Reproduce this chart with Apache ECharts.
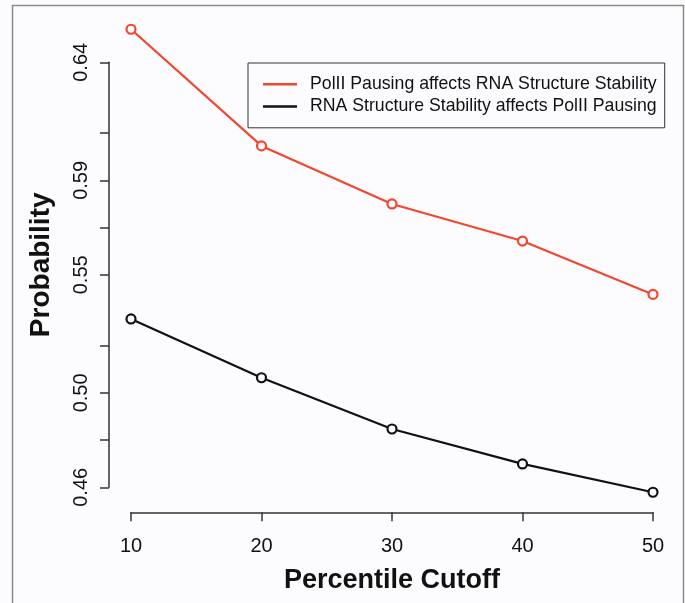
<!DOCTYPE html>
<html>
<head>
<meta charset="utf-8">
<script src="https://cdn.jsdelivr.net/npm/echarts@6/dist/echarts.min.js"></script>
<style>
  html, body { margin: 0; padding: 0; background: #fcfcfe; }
  #main { width: 685px; height: 603px; }
</style>
</head>
<body>
<div id="main"></div>
<script>
// data
var cutoffs = [10, 20, 30, 40, 50];
var pausingAffectsStructure = [0.654, 0.6046, 0.580, 0.5643, 0.5417];
var structureAffectsPausing = [0.5313, 0.5064, 0.4847, 0.4699, 0.4579];
var yLabelValues = [0.46, 0.50, 0.55, 0.59, 0.64];
var yTickValues = [0.46, 0.48, 0.50, 0.52, 0.55, 0.57, 0.59, 0.61, 0.64];

var seriesNames = ['PolII Pausing affects RNA Structure Stability', 'RNA Structure Stability affects PolII Pausing'];
var red = '#f2462e';
var black = '#111111';

function pairs(ys) {
    return cutoffs.map(function (x, i) { return [x, ys[i]]; });
}

var myChart = echarts.init(document.getElementById('main'));
myChart.setOption({
    backgroundColor: '#fcfcfe',
    animation: false,
    textStyle: { fontFamily: 'Liberation Sans, Arial, sans-serif' },
    graphic: [{
        // outer frame
        type: 'rect',
        shape: { x: 12.5, y: 5.5, width: 671, height: 620 },
        style: { fill: null, stroke: '#8a8a8a', lineWidth: 1.5 },
        silent: true
    }],
    grid: { left: 131, right: 32, top: 62.3, bottom: 115.7 },
    legend: {
        left: 248,
        top: 63,
        orient: 'vertical',
        padding: [10, 8, 10, 15],
        itemGap: 0,
        itemWidth: 34,
        itemHeight: 2.5,
        icon: 'rect',
        borderColor: '#333',
        borderWidth: 1,
        borderRadius: 0,
        textStyle: { fontSize: 17.7, color: '#111', lineHeight: 22.4, padding: [0, 0, 0, 8] },
        data: [
            { name: seriesNames[0], itemStyle: { color: red, borderWidth: 0 } },
            { name: seriesNames[1], itemStyle: { color: black, borderWidth: 0 } }
        ]
    },
    xAxis: {
        type: 'value',
        min: 10, max: 50, interval: 10,
        offset: 25,
        splitLine: { show: false },
        axisLine: { lineStyle: { color: '#333', width: 1.5 } },
        axisTick: { length: 9, lineStyle: { color: '#333', width: 1.5 } },
        axisLabel: { fontSize: 20, color: '#111', margin: 24 },
        name: 'Percentile Cutoff',
        nameLocation: 'middle',
        nameGap: 55,
        nameTextStyle: { fontSize: 27, fontWeight: 'bold', color: '#111' }
    },
    yAxis: {
        type: 'value',
        min: 0.46, max: 0.64,
        offset: 22,
        splitLine: { show: false },
        axisLine: { show: true, lineStyle: { color: '#333', width: 1.5 } },
        axisTick: { show: true, length: 9, customValues: yTickValues, lineStyle: { color: '#333', width: 1.5 } },
        axisLabel: {
            fontSize: 20, color: '#111', rotate: 90, margin: 18,
            align: 'center', verticalAlign: 'bottom',
            customValues: yLabelValues,
            formatter: function (v) { return v.toFixed(2); }
        },
        name: 'Probability',
        nameLocation: 'middle',
        nameRotate: 90,
        nameGap: 54,
        nameTextStyle: { fontSize: 28, fontWeight: 'bold', color: '#111', padding: [0, 0, 0, 20] }
    },
    series: [{
        name: seriesNames[0],
        type: 'line',
        clip: false,
        data: pairs(pausingAffectsStructure),
        symbol: 'circle',
        symbolSize: 9,
        color: red,
        lineStyle: { color: red, width: 2.2 },
        itemStyle: { color: '#fcfcfe', borderColor: red, borderWidth: 2.2 }
    }, {
        name: seriesNames[1],
        type: 'line',
        clip: false,
        data: pairs(structureAffectsPausing),
        symbol: 'circle',
        symbolSize: 9,
        color: black,
        lineStyle: { color: black, width: 2.2 },
        itemStyle: { color: '#fcfcfe', borderColor: black, borderWidth: 2.2 }
    }]
});
</script>
</body>
</html>
